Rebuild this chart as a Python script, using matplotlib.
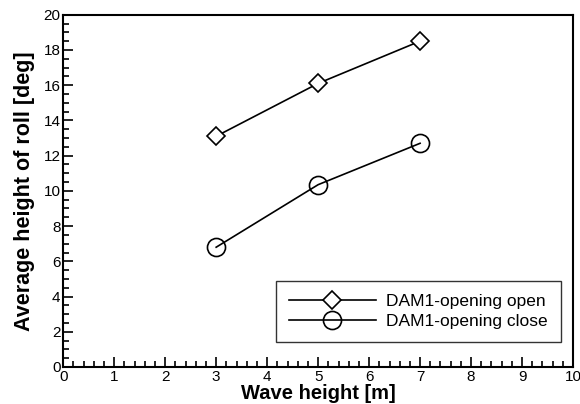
import matplotlib
matplotlib.use('Agg')
import matplotlib.pyplot as plt
from matplotlib.ticker import MultipleLocator

plt.rcParams['font.family'] = ['Liberation Sans', 'DejaVu Sans']

# wave height vs. average roll height
wave_height = [3, 5, 7]
roll_open = [13.1, 16.1, 18.5]
roll_close = [6.8, 10.35, 12.7]

fig = plt.figure(figsize=(5.8, 4.04), dpi=100)
ax = fig.add_axes([0.109, 0.0916, 0.879, 0.872])

ax.plot(wave_height, roll_open, color='black', lw=1.2, marker='D', ms=9,
        mfc='white', mec='black', mew=1.2, label='DAM1-opening open')
ax.plot(wave_height, roll_close, color='black', lw=1.2, marker='o', ms=13,
        mfc='none', mec='black', mew=1.2, label='DAM1-opening close')

ax.set_xlim(0, 10)
ax.set_ylim(0, 20)
ax.xaxis.set_major_locator(MultipleLocator(1))
ax.xaxis.set_minor_locator(MultipleLocator(0.2))
ax.yaxis.set_major_locator(MultipleLocator(2))
ax.yaxis.set_minor_locator(MultipleLocator(0.5))
ax.tick_params(which='both', direction='in', top=False, right=False,
               labelsize=11, width=1.2, color='black', pad=2)
ax.tick_params(which='major', length=7)
ax.tick_params(which='minor', length=4)
for s in ax.spines.values():
    s.set_linewidth(1.5)

ax.set_xlabel('Wave height [m]', fontsize=14.5, fontweight='bold', labelpad=0)
ax.set_ylabel('Average height of roll [deg]', fontsize=15.5, fontweight='bold', labelpad=6)

leg = ax.legend(loc='lower right', bbox_to_anchor=(0.993, 0.045), fontsize=12.5,
                frameon=True, fancybox=False, edgecolor='black', handlelength=5.0,
                handletextpad=0.6, borderpad=0.75, labelspacing=0.3)
leg.get_frame().set_linewidth(1.0)

plt.savefig('out.png', dpi=100)
